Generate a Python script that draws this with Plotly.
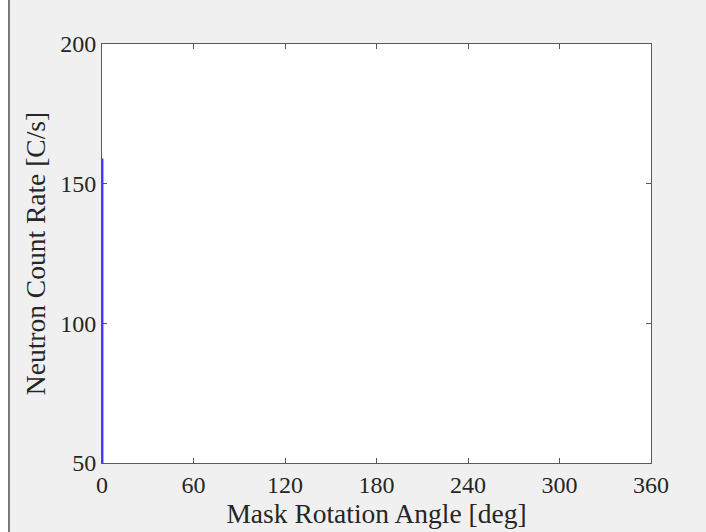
import plotly.graph_objects as go

# Data (all samples sit at ~0 deg)
angle_deg = [0.4, 0.4, 0.4, 0.4]
count_rate = [50, 159, 52, 158]

x_ticks = [0, 60, 120, 180, 240, 300, 360]
y_ticks = [50, 100, 150, 200]

FONT = "Liberation Serif"
AX = "#5a5a5a"
TXT = "#262626"

fig = go.Figure()
fig.add_trace(go.Scatter(x=angle_deg, y=count_rate, mode="lines",
                         line=dict(color="#3535ff", width=1.6), showlegend=False))

axis_common = dict(showline=True, linecolor=AX, linewidth=1, mirror="ticks",
                   ticks="inside", ticklen=5, tickwidth=1, tickcolor=AX,
                   showgrid=False, zeroline=False, layer="below traces",
                   tickfont=dict(family=FONT, size=24, color=TXT))

fig.update_xaxes(range=[0, 360], tickvals=x_ticks, ticktext=[str(v) for v in x_ticks],
                 title=dict(text="Mask Rotation Angle [deg]", font=dict(family=FONT, size=27.5, color=TXT),
                            standoff=1),
                 **axis_common)
fig.update_yaxes(range=[50, 200], tickvals=y_ticks, ticktext=[str(v) for v in y_ticks],
                 title=dict(text="Neutron Count Rate [C/s]", font=dict(family=FONT, size=27.5, color=TXT),
                            standoff=6),
                 **axis_common)

W, H = 706, 532
L, R, T, B = 102, 55, 44, 69
pw = W - L - R
# window-frame details at the left edge of the reference image
fig.add_shape(type="rect", xref="paper", yref="paper",
              x0=(0 - L) / pw, x1=(8 - L) / pw, y0=-2, y1=3,
              fillcolor="white", line=dict(width=0), layer="below")
fig.add_shape(type="line", xref="paper", yref="paper",
              x0=(9 - L) / pw, x1=(9 - L) / pw, y0=-2, y1=3,
              line=dict(color="#505050", width=1.5), layer="below")

fig.update_layout(width=W, height=H, margin=dict(l=L, r=R, t=T, b=B),
                  paper_bgcolor="#f0f0f0", plot_bgcolor="white",
                  font=dict(family=FONT, color=TXT))

fig.write_html("out.html", config={"displayModeBar": False},
               post_script="document.body.style.margin='0';document.body.style.overflow='hidden';")
